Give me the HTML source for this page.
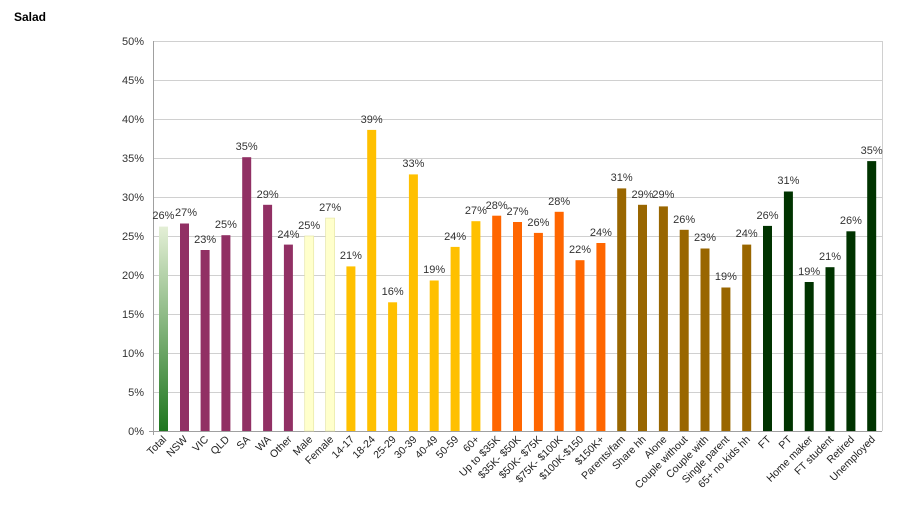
<!DOCTYPE html>
<html><head><meta charset="utf-8"><style>
body{margin:0;background:#fff;width:900px;height:508px;overflow:hidden;font-family:"Liberation Sans",Arial,sans-serif}
svg text{font-family:"Liberation Sans",Arial,sans-serif}
</style></head><body>
<svg width="900" height="508" viewBox="0 0 900 508" xmlns="http://www.w3.org/2000/svg">
<defs><linearGradient id="g" x1="0" y1="0" x2="0" y2="1"><stop offset="0" stop-color="#e4efd6"/><stop offset="1" stop-color="#1e761e"/></linearGradient></defs>
<text x="14" y="21" font-size="12" font-weight="bold" fill="#000">Salad</text>
<g stroke="#d0d0d0" stroke-width="1">
<line x1="153" x2="882" y1="41.5" y2="41.5"/><line x1="153" x2="882" y1="80.5" y2="80.5"/><line x1="153" x2="882" y1="119.5" y2="119.5"/><line x1="153" x2="882" y1="158.5" y2="158.5"/><line x1="153" x2="882" y1="197.5" y2="197.5"/><line x1="153" x2="882" y1="236.5" y2="236.5"/><line x1="153" x2="882" y1="275.5" y2="275.5"/><line x1="153" x2="882" y1="314.5" y2="314.5"/><line x1="153" x2="882" y1="353.5" y2="353.5"/><line x1="153" x2="882" y1="392.5" y2="392.5"/>
<line x1="882.5" x2="882.5" y1="41" y2="431"/>
</g>
<g stroke="#a0a0a0"><line x1="153.5" x2="153.5" y1="41" y2="435"/><line x1="149" x2="882" y1="431.5" y2="431.5"/></g>
<g font-size="11" fill="#333" text-anchor="end">
<text x="144" y="45">50%</text><text x="144" y="84">45%</text><text x="144" y="123">40%</text><text x="144" y="162">35%</text><text x="144" y="201">30%</text><text x="144" y="240">25%</text><text x="144" y="279">20%</text><text x="144" y="318">15%</text><text x="144" y="357">10%</text><text x="144" y="396">5%</text><text x="144" y="435">0%</text>
</g>
<g>
<rect x="159" y="226.6" width="9" height="204.4" fill="url(#g)"/>
<rect x="180" y="223.5" width="9" height="207.5" fill="#913064"/>
<rect x="200.6" y="250" width="9" height="181" fill="#913064"/>
<rect x="221.4" y="235.2" width="9" height="195.8" fill="#913064"/>
<rect x="242.2" y="157.2" width="9" height="273.8" fill="#913064"/>
<rect x="263.1" y="204.8" width="9" height="226.2" fill="#913064"/>
<rect x="283.9" y="244.6" width="9" height="186.4" fill="#913064"/>
<rect x="304.7" y="236" width="9" height="195" fill="#ffffcc" stroke="#e6e6a8" stroke-width="0.7"/>
<rect x="325.6" y="218.1" width="9" height="212.9" fill="#ffffcc" stroke="#e6e6a8" stroke-width="0.7"/>
<rect x="346.4" y="266.4" width="9" height="164.6" fill="#ffc000"/>
<rect x="367.2" y="129.9" width="9" height="301.1" fill="#ffc000"/>
<rect x="388.1" y="302.3" width="9" height="128.7" fill="#ffc000"/>
<rect x="408.9" y="174.4" width="9" height="256.6" fill="#ffc000"/>
<rect x="429.7" y="280.5" width="9" height="150.5" fill="#ffc000"/>
<rect x="450.6" y="246.9" width="9" height="184.1" fill="#ffc000"/>
<rect x="471.4" y="221.2" width="9" height="209.8" fill="#ffc000"/>
<rect x="492.2" y="215.7" width="9" height="215.3" fill="#ff6600"/>
<rect x="513" y="222" width="9" height="209" fill="#ff6600"/>
<rect x="533.9" y="232.9" width="9" height="198.1" fill="#ff6600"/>
<rect x="554.7" y="211.8" width="9" height="219.2" fill="#ff6600"/>
<rect x="575.5" y="260.2" width="9" height="170.8" fill="#ff6600"/>
<rect x="596.4" y="243" width="9" height="188" fill="#ff6600"/>
<rect x="617.2" y="188.4" width="9" height="242.6" fill="#996600"/>
<rect x="638" y="204.8" width="9" height="226.2" fill="#996600"/>
<rect x="658.9" y="206.4" width="9" height="224.6" fill="#996600"/>
<rect x="679.7" y="229.8" width="9" height="201.2" fill="#996600"/>
<rect x="700.5" y="248.5" width="9" height="182.5" fill="#996600"/>
<rect x="721.4" y="287.5" width="9" height="143.5" fill="#996600"/>
<rect x="742.2" y="244.6" width="9" height="186.4" fill="#996600"/>
<rect x="763" y="225.9" width="9" height="205.1" fill="#003300"/>
<rect x="783.9" y="191.5" width="9" height="239.5" fill="#003300"/>
<rect x="804.7" y="282" width="9" height="149" fill="#003300"/>
<rect x="825.5" y="267.2" width="9" height="163.8" fill="#003300"/>
<rect x="846.4" y="231.3" width="9" height="199.7" fill="#003300"/>
<rect x="867.2" y="161.1" width="9" height="269.9" fill="#003300"/>
</g>
<g font-size="11" fill="#333" text-anchor="middle">
<text x="163.4" y="219">26%</text><text x="186" y="216">27%</text><text x="205.1" y="243">23%</text><text x="225.9" y="228">25%</text><text x="246.7" y="150">35%</text><text x="267.6" y="198">29%</text><text x="288.4" y="238">24%</text><text x="309.2" y="229">25%</text><text x="330.1" y="211">27%</text><text x="350.9" y="259">21%</text><text x="371.7" y="123">39%</text><text x="392.6" y="295">16%</text><text x="413.4" y="167">33%</text><text x="434.2" y="273">19%</text><text x="455.1" y="240">24%</text><text x="475.9" y="214">27%</text><text x="496.7" y="209">28%</text><text x="517.5" y="215">27%</text><text x="538.4" y="226">26%</text><text x="559.2" y="205">28%</text><text x="580" y="253">22%</text><text x="600.9" y="236">24%</text><text x="621.7" y="181">31%</text><text x="642.5" y="198">29%</text><text x="663.4" y="198">29%</text><text x="684.2" y="223">26%</text><text x="705" y="241">23%</text><text x="725.9" y="280">19%</text><text x="746.7" y="237">24%</text><text x="767.5" y="219">26%</text><text x="788.4" y="184">31%</text><text x="809.2" y="275">19%</text><text x="830" y="260">21%</text><text x="850.9" y="224">26%</text><text x="871.7" y="154">35%</text>
</g>
<g font-size="10.5" fill="#222" text-anchor="end">
<text transform="translate(167,440) rotate(-45)">Total</text>
<text transform="translate(188,440) rotate(-45)">NSW</text>
<text transform="translate(209,440) rotate(-45)">VIC</text>
<text transform="translate(230,440) rotate(-45)">QLD</text>
<text transform="translate(250.7,440) rotate(-45)">SA</text>
<text transform="translate(271.6,440) rotate(-45)">WA</text>
<text transform="translate(292.4,440) rotate(-45)">Other</text>
<text transform="translate(313.2,440) rotate(-45)">Male</text>
<text transform="translate(334.1,440) rotate(-45)">Female</text>
<text transform="translate(354.9,440) rotate(-45)">14-17</text>
<text transform="translate(375.7,440) rotate(-45)">18-24</text>
<text transform="translate(396.6,440) rotate(-45)">25-29</text>
<text transform="translate(417.4,440) rotate(-45)">30-39</text>
<text transform="translate(438.2,440) rotate(-45)">40-49</text>
<text transform="translate(459.1,440) rotate(-45)">50-59</text>
<text transform="translate(479.9,440) rotate(-45)">60+</text>
<text transform="translate(500.7,440) rotate(-45)">Up to $35K</text>
<text transform="translate(521.5,440) rotate(-45)">$35K- $50K</text>
<text transform="translate(542.4,440) rotate(-45)">$50K- $75K</text>
<text transform="translate(563.2,440) rotate(-45)">$75K- $100K</text>
<text transform="translate(584,440) rotate(-45)">$100K-$150</text>
<text transform="translate(604.9,440) rotate(-45)">$150K+</text>
<text transform="translate(625.7,440) rotate(-45)">Parents/fam</text>
<text transform="translate(646.5,440) rotate(-45)">Share hh</text>
<text transform="translate(667.4,440) rotate(-45)">Alone</text>
<text transform="translate(688.2,440) rotate(-45)">Couple without</text>
<text transform="translate(709,440) rotate(-45)">Couple with</text>
<text transform="translate(729.9,440) rotate(-45)">Single parent</text>
<text transform="translate(750.7,440) rotate(-45)">65+ no kids hh</text>
<text transform="translate(771.5,440) rotate(-45)">FT</text>
<text transform="translate(792.4,440) rotate(-45)">PT</text>
<text transform="translate(813.2,440) rotate(-45)">Home maker</text>
<text transform="translate(834,440) rotate(-45)">FT student</text>
<text transform="translate(854.9,440) rotate(-45)">Retired</text>
<text transform="translate(875.7,440) rotate(-45)">Unemployed</text>
</g>
</svg>
</body></html>
